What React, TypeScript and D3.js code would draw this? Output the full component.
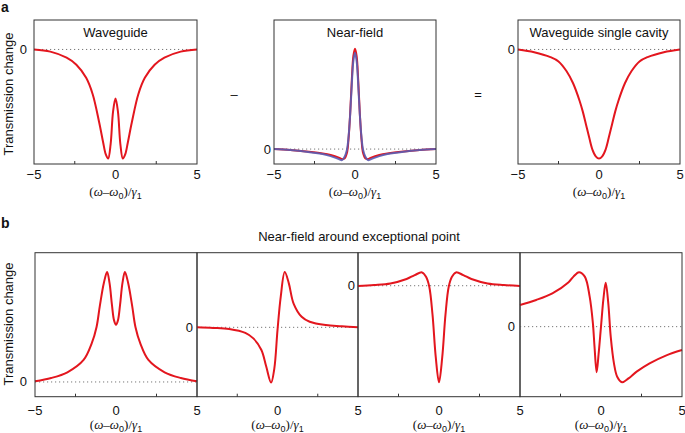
import * as d3 from "d3";

// ---- data (x in units of gamma_1, y in each panel's own units) ----
const xTicks = [-5, 0, 5];
const minorTicks = [-2.5, 2.5];

const waveguideX = [-5, -4, -3, -2.4, -1.8, -1.4, -1, -0.76, -0.6, -0.45, -0.3, -0.15, 0, 0.15, 0.3, 0.45, 0.6, 0.76, 1, 1.4, 1.8, 2.4, 3, 4, 5];
const waveguideY = [0, -0.02, -0.075, -0.14, -0.26, -0.41, -0.67, -0.85, -0.96, -1, -0.87, -0.57, -0.45, -0.57, -0.87, -1, -0.96, -0.85, -0.67, -0.41, -0.26, -0.14, -0.075, -0.02, 0];

const nearFieldX = [-5, -4, -3, -2, -1.5, -1, -0.8, -0.65, -0.5, -0.4, -0.3, -0.2, -0.1, 0, 0.1, 0.2, 0.3, 0.4, 0.5, 0.65, 0.8, 1, 1.5, 2, 3, 4, 5];
const nearFieldRedY = [0, -0.01, -0.025, -0.045, -0.06, -0.085, -0.1, -0.095, -0.04, 0.1, 0.35, 0.68, 0.93, 1, 0.93, 0.68, 0.35, 0.1, -0.04, -0.095, -0.1, -0.085, -0.06, -0.045, -0.025, -0.01, 0];
const nearFieldBlueY = [0, -0.01, -0.026, -0.05, -0.07, -0.1, -0.11, -0.08, -0.01, 0.12, 0.34, 0.64, 0.88, 0.96, 0.88, 0.64, 0.34, 0.12, -0.01, -0.08, -0.11, -0.1, -0.07, -0.05, -0.026, -0.01, 0];

const singleX = [-5, -4, -3, -2.5, -2, -1.6, -1.2, -1, -0.8, -0.6, -0.4, -0.2, 0, 0.2, 0.4, 0.6, 0.8, 1, 1.2, 1.6, 2, 2.5, 3, 4, 5];
const singleY = [0, -0.025, -0.07, -0.11, -0.2, -0.31, -0.47, -0.57, -0.69, -0.81, -0.92, -0.98, -1, -0.98, -0.92, -0.81, -0.69, -0.57, -0.47, -0.31, -0.2, -0.11, -0.07, -0.025, 0];

const ep1X = [-5, -4, -3, -2, -1.5, -1.2, -1, -0.75, -0.55, -0.4, -0.25, -0.12, 0, 0.12, 0.25, 0.4, 0.55, 0.75, 1, 1.2, 1.5, 2, 3, 4, 5];
const ep1Y = [0.006, 0.036, 0.088, 0.2, 0.35, 0.5, 0.69, 0.9, 1, 0.9, 0.7, 0.56, 0.52, 0.56, 0.7, 0.9, 1, 0.9, 0.69, 0.5, 0.35, 0.2, 0.088, 0.036, 0.006];

const ep2X = [-5, -4, -3, -2, -1.5, -1, -0.7, -0.4, -0.2, 0, 0.2, 0.45, 0.7, 1, 1.5, 2, 3, 4, 5];
const ep2Y = [0, -0.01, -0.03, -0.1, -0.2, -0.41, -0.71, -1, -0.75, -0.05, 0.55, 1, 0.8, 0.43, 0.19, 0.1, 0.04, 0.02, 0];

const ep3X = [-5, -4, -3, -2, -1.5, -1.05, -0.8, -0.6, -0.4, -0.2, 0, 0.2, 0.4, 0.6, 0.8, 1.05, 1.5, 2, 3, 4, 5];
const ep3Y = [-0.003, 0.007, 0.024, 0.07, 0.11, 0.138, 0.093, -0.01, -0.3, -0.74, -1, -0.74, -0.3, -0.01, 0.093, 0.138, 0.11, 0.07, 0.024, 0.007, -0.003];

const ep4X = [-5, -4, -3, -2, -1.7, -1.36, -1, -0.7, -0.5, -0.4, -0.27, -0.15, 0, 0.15, 0.29, 0.45, 0.6, 0.8, 1, 1.3, 1.7, 2.2, 3, 4, 5];
const ep4Y = [0.39, 0.48, 0.6, 0.8, 0.9, 0.98, 0.9, 0.54, 0.06, -0.36, -0.82, -0.5, 0, 0.5, 0.79, 0.42, -0.18, -0.66, -0.9, -1, -0.93, -0.81, -0.66, -0.52, -0.42];

const RED = "#e3161e";
const BLUE = "#5a5cb2";
const INK = "#111";
const SANS = "'Liberation Sans', Arial, Helvetica, sans-serif";
const SERIF = "'Liberation Serif', 'Times New Roman', serif";

type Curve = { xs: number[]; ys: number[]; color: string; opacity?: number };
type PanelSpec = {
  left: number; right: number; top: number; bottom: number;
  yDomain: [number, number];
  curves: Curve[];
  title?: string;
  zeroGap: number;
  firstTick: boolean;
  tickY: number; titleY: number;
};

const line = d3.line<[number, number]>().curve(d3.curveCatmullRom.alpha(0.5));

function AxisTitle({ x, y }: { x: number; y: number }) {
  return (
    <text x={x} y={y} textAnchor="middle" fontFamily={SERIF} fontSize={13} fill={INK}>
      (<tspan fontStyle="italic">ω</tspan>–<tspan fontStyle="italic">ω</tspan>
      <tspan fontFamily={SANS} fontSize={9} dy={3}>0</tspan>
      <tspan dy={-3}>)/</tspan>
      <tspan fontStyle="italic">γ</tspan>
      <tspan fontFamily={SANS} fontSize={9} dy={3}>1</tspan>
    </text>
  );
}

function Panel({ p }: { p: PanelSpec }) {
  const x = d3.scaleLinear().domain([-5, 5]).range([p.left, p.right]);
  const y = d3.scaleLinear().domain(p.yDomain).range([p.bottom, p.top]);
  const cx = (p.left + p.right) / 2;
  return (
    <g>
      <line x1={p.left} x2={p.right} y1={y(0)} y2={y(0)} stroke="#777" strokeWidth={1} strokeDasharray="1.2,2.8" />
      {p.curves.map((c, i) => (
        <path key={i} d={line(c.xs.map((v, j) => [x(v), y(c.ys[j])]))!} fill="none" stroke={c.color}
          strokeWidth={2} strokeOpacity={c.opacity ?? 1} strokeLinejoin="round" />
      ))}
      <rect x={p.left} y={p.top} width={p.right - p.left} height={p.bottom - p.top} fill="none" stroke="#333" strokeWidth={1} />
      {minorTicks.map((t) => (
        <line key={t} x1={x(t)} x2={x(t)} y1={p.bottom} y2={p.bottom - 3} stroke="#333" strokeWidth={1} />
      ))}
      {xTicks.filter((t) => p.firstTick || t !== -5).map((t) => (
        <text key={t} x={x(t)} y={p.tickY} textAnchor="middle" fontFamily={SANS} fontSize={13} fill={INK}>
          {t < 0 ? `−${-t}` : t}
        </text>
      ))}
      <text x={p.left - p.zeroGap} y={y(0) + 4.5} textAnchor="end" fontFamily={SANS} fontSize={13} fill={INK}>0</text>
      {p.title && (
        <text x={cx} y={37} textAnchor="middle" fontFamily={SANS} fontSize={13} fill={INK}>{p.title}</text>
      )}
      <AxisTitle x={cx} y={p.titleY} />
    </g>
  );
}

const aTop = 20, aBottom = 164, bTop = 252.7, bBottom = 396.7;

const panels: PanelSpec[] = [
  { left: 34, right: 197, top: aTop, bottom: aBottom, yDomain: [-1.05, 0.27], title: "Waveguide",
    curves: [{ xs: waveguideX, ys: waveguideY, color: RED }], zeroGap: 7, firstTick: true, tickY: 179, titleY: 196 },
  { left: 274, right: 436, top: aTop, bottom: aBottom, yDomain: [-0.149, 1.288], title: "Near-field",
    curves: [{ xs: nearFieldX, ys: nearFieldRedY, color: RED }, { xs: nearFieldX, ys: nearFieldBlueY, color: BLUE, opacity: 0.9 }],
    zeroGap: 3, firstTick: true, tickY: 179, titleY: 196 },
  { left: 518, right: 680, top: aTop, bottom: aBottom, yDomain: [-1.05, 0.27], title: "Waveguide single cavity",
    curves: [{ xs: singleX, ys: singleY, color: RED }], zeroGap: 3, firstTick: true, tickY: 179, titleY: 196 },
  { left: 35, right: 197, top: bTop, bottom: bBottom, yDomain: [-0.134, 1.175],
    curves: [{ xs: ep1X, ys: ep1Y, color: RED }], zeroGap: 8, firstTick: true, tickY: 415, titleY: 429 },
  { left: 197, right: 358, top: bTop, bottom: bBottom, yDomain: [-1.255, 1.35],
    curves: [{ xs: ep2X, ys: ep2Y, color: RED }], zeroGap: 4, firstTick: false, tickY: 415, titleY: 429 },
  { left: 358, right: 520, top: bTop, bottom: bBottom, yDomain: [-1.149, 0.342],
    curves: [{ xs: ep3X, ys: ep3Y, color: RED }], zeroGap: 3, firstTick: false, tickY: 415, titleY: 429 },
  { left: 520, right: 682, top: bTop, bottom: bBottom, yDomain: [-1.26, 1.33],
    curves: [{ xs: ep4X, ys: ep4Y, color: RED }], zeroGap: 5, firstTick: false, tickY: 415, titleY: 429 },
];

export default function App() {
  return (
    <div style={{ position: "absolute", left: 0, top: 0 }}>
      <svg width={685} height={433} style={{ display: "block", background: "#fff" }}>
        <text x={1} y={12} fontFamily={SANS} fontSize={14} fontWeight="bold" fill={INK}>a</text>
        <text x={1} y={228} fontFamily={SANS} fontSize={14} fontWeight="bold" fill={INK}>b</text>
        <text transform="translate(13,94) rotate(-90)" textAnchor="middle" fontFamily={SANS} fontSize={13} fill={INK}>Transmission change</text>
        <text transform="translate(13,324) rotate(-90)" textAnchor="middle" fontFamily={SANS} fontSize={13} fill={INK}>Transmission change</text>
        <text x={234} y={99} textAnchor="middle" fontFamily={SANS} fontSize={13} fill={INK}>–</text>
        <text x={478} y={99} textAnchor="middle" fontFamily={SANS} fontSize={13} fill={INK}>=</text>
        <text x={359} y={241} textAnchor="middle" fontFamily={SANS} fontSize={13} fill={INK}>Near-field around exceptional point</text>
        {panels.map((p, i) => <Panel key={i} p={p} />)}
      </svg>
    </div>
  );
}
